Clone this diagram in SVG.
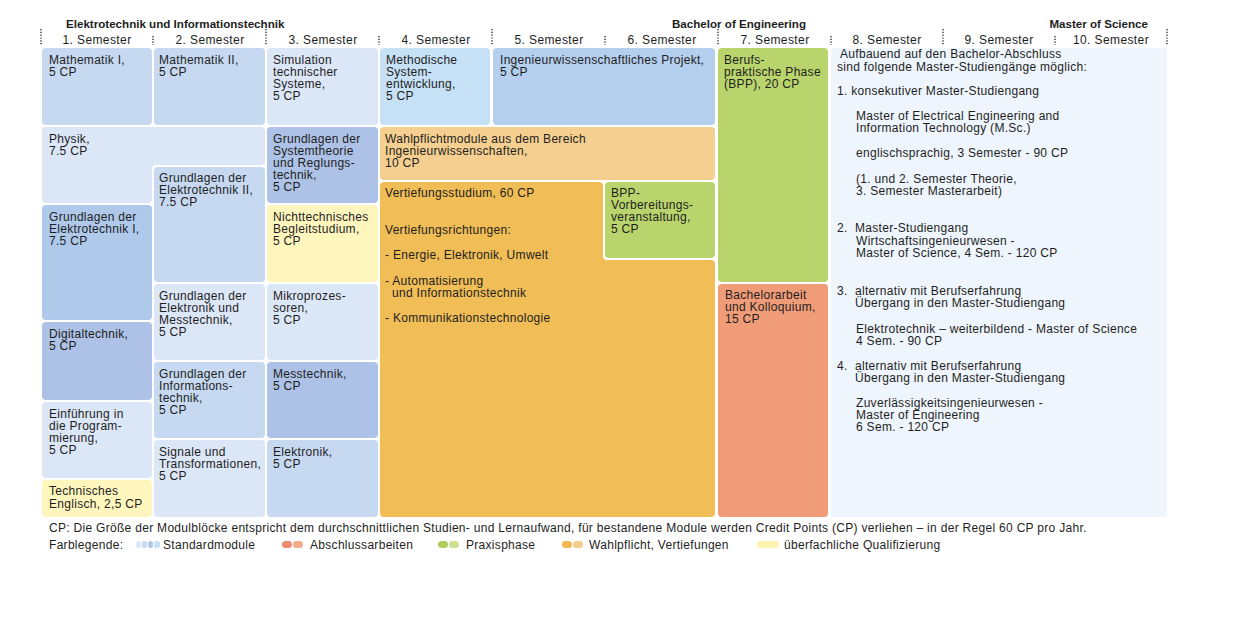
<svg xmlns="http://www.w3.org/2000/svg" width="1240" height="629" viewBox="0 0 1240 629">
<style>
text{font-family:"Liberation Sans",Arial,sans-serif;font-size:12px;letter-spacing:0.3px;fill:#1e1e1e}
.h{font-weight:bold;letter-spacing:0;font-size:11.6px}
.sem{text-anchor:middle;letter-spacing:0.4px}
.dv{stroke:#444;stroke-width:1.6;stroke-dasharray:1.2 1.6}
.b1{fill:#c6d9f1}.b2{fill:#dbe6f6}.b3{fill:#afc9eb}.b4{fill:#adc2e6}.b5{fill:#c6e0f5}.b6{fill:#b5cfee}
.y{fill:#fff6be}.o1{fill:#f4cf8f}.o2{fill:#f0bd57}.g{fill:#b9d46c}.r{fill:#f19c79}.m{fill:#eef5fc}
</style>
<rect width="1240" height="629" fill="#fff"/>
<g id="header">
<text class="h" x="66" y="28">Elektrotechnik und Informationstechnik</text>
<text class="h" x="806" y="28" text-anchor="end">Bachelor of Engineering</text>
<text class="h" x="1148" y="28" text-anchor="end">Master of Science</text>
<g>
<line class="dv" x1="41" y1="29" x2="41" y2="45"/>
<line class="dv" x1="153" y1="36" x2="153" y2="45"/>
<line class="dv" x1="266" y1="29" x2="266" y2="45"/>
<line class="dv" x1="379" y1="36" x2="379" y2="45"/>
<line class="dv" x1="492" y1="29" x2="492" y2="45"/>
<line class="dv" x1="605" y1="36" x2="605" y2="45"/>
<line class="dv" x1="718" y1="29" x2="718" y2="45"/>
<line class="dv" x1="831" y1="36" x2="831" y2="45"/>
<line class="dv" x1="943" y1="29" x2="943" y2="45"/>
<line class="dv" x1="1055" y1="36" x2="1055" y2="45"/>
<line class="dv" x1="1167" y1="29" x2="1167" y2="45"/>
</g>
<text class="sem" x="97" y="44">1. Semester</text>
<text class="sem" x="210" y="44">2. Semester</text>
<text class="sem" x="323" y="44">3. Semester</text>
<text class="sem" x="436" y="44">4. Semester</text>
<text class="sem" x="549" y="44">5. Semester</text>
<text class="sem" x="662" y="44">6. Semester</text>
<text class="sem" x="775" y="44">7. Semester</text>
<text class="sem" x="887" y="44">8. Semester</text>
<text class="sem" x="999" y="44">9. Semester</text>
<text class="sem" x="1111" y="44">10. Semester</text>
</g>

<g id="mathematik1"><rect class="b1" x="42" y="48" width="110" height="77" rx="4"/>
<text x="49" y="64">Mathematik I,</text><text x="49" y="76">5 CP</text></g>
<g id="physik"><path class="b2" d="M46,127 H261 Q265,127 265,131 V161 Q265,165 261,165 H156 Q152,165 152,169 V199 Q152,203 148,203 H46 Q42,203 42,199 V131 Q42,127 46,127 Z"/>
<text x="49" y="143">Physik,</text><text x="49" y="155">7.5 CP</text></g>
<g id="get1"><rect class="b3" x="42" y="205" width="110" height="115" rx="4"/>
<text x="49" y="221">Grundlagen der</text><text x="49" y="233">Elektrotechnik I,</text><text x="49" y="245">7.5 CP</text></g>
<g id="digitaltechnik"><rect class="b4" x="42" y="322" width="110" height="78" rx="4"/>
<text x="49" y="338">Digitaltechnik,</text><text x="49" y="350">5 CP</text></g>
<g id="programmierung"><rect class="b2" x="42" y="402" width="110" height="76" rx="4"/>
<text x="49" y="418">Einführung in</text><text x="49" y="430">die Program-</text><text x="49" y="442">mierung,</text><text x="49" y="454">5 CP</text></g>
<g id="englisch"><rect class="y" x="42" y="480" width="110" height="37" rx="4"/>
<text x="49" y="495">Technisches</text><text x="49" y="508">Englisch, 2,5 CP</text></g>

<g id="mathematik2"><rect class="b1" x="154" y="48" width="111" height="77" rx="4"/>
<text x="159" y="64">Mathematik II,</text><text x="159" y="76">5 CP</text></g>
<g id="get2"><rect class="b1" x="154" y="167" width="111" height="115" rx="4"/>
<text x="159" y="182">Grundlagen der</text><text x="159" y="194">Elektrotechnik II,</text><text x="159" y="206">7.5 CP</text></g>
<g id="elektronik-mess"><rect class="b2" x="154" y="284" width="111" height="76" rx="4"/>
<text x="159" y="300">Grundlagen der</text><text x="159" y="312">Elektronik und</text><text x="159" y="324">Messtechnik,</text><text x="159" y="336">5 CP</text></g>
<g id="informationstechnik"><rect class="b1" x="154" y="362" width="111" height="76" rx="4"/>
<text x="159" y="378">Grundlagen der</text><text x="159" y="390">Informations-</text><text x="159" y="402">technik,</text><text x="159" y="414">5 CP</text></g>
<g id="signale"><rect class="b2" x="154" y="440" width="111" height="77" rx="4"/>
<text x="159" y="456">Signale und</text><text x="159" y="468">Transformationen,</text><text x="159" y="480">5 CP</text></g>

<g id="simulation"><rect class="b2" x="267" y="48" width="111" height="77" rx="4"/>
<text x="273" y="64">Simulation</text><text x="273" y="76">technischer</text><text x="273" y="88">Systeme,</text><text x="273" y="100">5 CP</text></g>
<g id="systemtheorie"><rect class="b4" x="267" y="127" width="111" height="76" rx="4"/>
<text x="273" y="143">Grundlagen der</text><text x="273" y="155">Systemtheorie</text><text x="273" y="167">und Reglungs-</text><text x="273" y="179">technik,</text><text x="273" y="191">5 CP</text></g>
<g id="begleitstudium"><rect class="y" x="267" y="205" width="111" height="77" rx="4"/>
<text x="273" y="221">Nichttechnisches</text><text x="273" y="233">Begleitstudium,</text><text x="273" y="245">5 CP</text></g>
<g id="mikroprozessoren"><rect class="b2" x="267" y="284" width="111" height="76" rx="4"/>
<text x="273" y="300">Mikroprozes-</text><text x="273" y="312">soren,</text><text x="273" y="324">5 CP</text></g>
<g id="messtechnik"><rect class="b4" x="267" y="362" width="111" height="76" rx="4"/>
<text x="273" y="378">Messtechnik,</text><text x="273" y="390">5 CP</text></g>
<g id="elektronik"><rect class="b1" x="267" y="440" width="111" height="77" rx="4"/>
<text x="273" y="456">Elektronik,</text><text x="273" y="468">5 CP</text></g>

<g id="systementwicklung"><rect class="b5" x="380" y="48" width="110" height="77" rx="4"/>
<text x="386" y="64">Methodische</text><text x="386" y="76">System-</text><text x="386" y="88">entwicklung,</text><text x="386" y="100">5 CP</text></g>
<g id="projekt"><rect class="b6" x="493" y="48" width="222" height="77" rx="4"/>
<text x="500" y="64">Ingenieurwissenschaftliches Projekt,</text><text x="500" y="76">5 CP</text></g>
<g id="wahlpflicht"><rect class="o1" x="380" y="127" width="335" height="53" rx="4"/>
<text x="385" y="143">Wahlpflichtmodule aus dem Bereich</text><text x="385" y="155">Ingenieurwissenschaften,</text><text x="385" y="167">10 CP</text></g>
<g id="vertiefung"><path class="o2" d="M384,182 H599 Q603,182 603,186 V256 Q603,260 607,260 H711 Q715,260 715,264 V513 Q715,517 711,517 H384 Q380,517 380,513 V186 Q380,182 384,182 Z"/>
<text x="385" y="197">Vertiefungsstudium, 60 CP</text>
<text x="385" y="234">Vertiefungsrichtungen:</text>
<text x="385" y="259">- Energie, Elektronik, Umwelt</text>
<text x="385" y="285">- Automatisierung</text>
<text x="392" y="297">und Informationstechnik</text>
<text x="385" y="322">- Kommunikationstechnologie</text></g>
<g id="bpp-vorbereitung"><rect class="g" x="605" y="182" width="110" height="76" rx="4"/>
<text x="611" y="197">BPP-</text><text x="611" y="209">Vorbereitungs-</text><text x="611" y="221">veranstaltung,</text><text x="611" y="233">5 CP</text></g>
<g id="bpp"><rect class="g" x="718" y="48" width="110" height="234" rx="4"/>
<text x="724" y="64">Berufs-</text><text x="724" y="76">praktische Phase</text><text x="724" y="88">(BPP), 20 CP</text></g>
<g id="bachelorarbeit"><rect class="r" x="718" y="284" width="110" height="233" rx="4"/>
<text x="725" y="299">Bachelorarbeit</text><text x="725" y="311">und Kolloquium,</text><text x="725" y="323">15 CP</text></g>

<g id="master"><rect class="m" x="831" y="48" width="336" height="469" rx="3"/>
<text x="840" y="58">Aufbauend auf den Bachelor-Abschluss</text>
<text x="837" y="71">sind folgende Master-Studiengänge möglich:</text>
<text x="837" y="95">1. konsekutiver Master-Studiengang</text>
<text x="856" y="120">Master of Electrical Engineering and</text>
<text x="856" y="132">Information Technology (M.Sc.)</text>
<text x="856" y="157">englischsprachig, 3 Semester - 90 CP</text>
<text x="856" y="183">(1. und 2. Semester Theorie,</text>
<text x="856" y="195">3. Semester Masterarbeit)</text>
<text x="837" y="232">2.</text><text x="855" y="232">Master-Studiengang</text>
<text x="856" y="245">Wirtschaftsingenieurwesen -</text>
<text x="856" y="257">Master of Science, 4 Sem. - 120 CP</text>
<text x="837" y="295">3.</text><text x="855" y="295">alternativ mit Berufserfahrung</text>
<text x="855" y="307">Übergang in den Master-Studiengang</text>
<text x="856" y="333">Elektrotechnik – weiterbildend - Master of Science</text>
<text x="856" y="345">4 Sem. - 90 CP</text>
<text x="837" y="370">4.</text><text x="855" y="370">alternativ mit Berufserfahrung</text>
<text x="855" y="382">Übergang in den Master-Studiengang</text>
<text x="856" y="407">Zuverlässigkeitsingenieurwesen -</text>
<text x="856" y="419">Master of Engineering</text>
<text x="856" y="431">6 Sem. - 120 CP</text>
</g>

<g id="legend">
<text x="49" y="532">CP: Die Größe der Modulblöcke entspricht dem durchschnittlichen Studien- und Lernaufwand, für bestandene Module werden Credit Points (CP) verliehen – in der Regel 60 CP pro Jahr.</text>
<text x="49" y="549">Farblegende:</text>
<rect x="136" y="541" width="5" height="7" rx="2.5" fill="#dbe6f6"/>
<rect x="142" y="541" width="5" height="7" rx="2.5" fill="#c6d9f1"/>
<rect x="148" y="541" width="5" height="7" rx="2.5" fill="#afc9eb"/>
<rect x="154" y="541" width="6" height="7" rx="2.5" fill="#c6e0f5"/>
<text x="163" y="549">Standardmodule</text>
<rect x="282" y="541" width="10" height="7" rx="3.5" fill="#ee8a6f"/>
<rect x="293" y="541" width="10" height="7" rx="3.5" fill="#f4ab8c"/>
<text x="310" y="549">Abschlussarbeiten</text>
<rect x="438" y="541" width="10" height="7" rx="3.5" fill="#aecd5c"/>
<rect x="449" y="541" width="10" height="7" rx="3.5" fill="#cde291"/>
<text x="466" y="549">Praxisphase</text>
<rect x="562" y="541" width="10" height="7" rx="3.5" fill="#f0b84e"/>
<rect x="573" y="541" width="10" height="7" rx="3.5" fill="#f4cd8c"/>
<text x="589" y="549">Wahlpflicht, Vertiefungen</text>
<rect x="757" y="541" width="22" height="7" rx="3.5" fill="#fff3b0"/>
<text x="784" y="549">überfachliche Qualifizierung</text>
</g>
</svg>
